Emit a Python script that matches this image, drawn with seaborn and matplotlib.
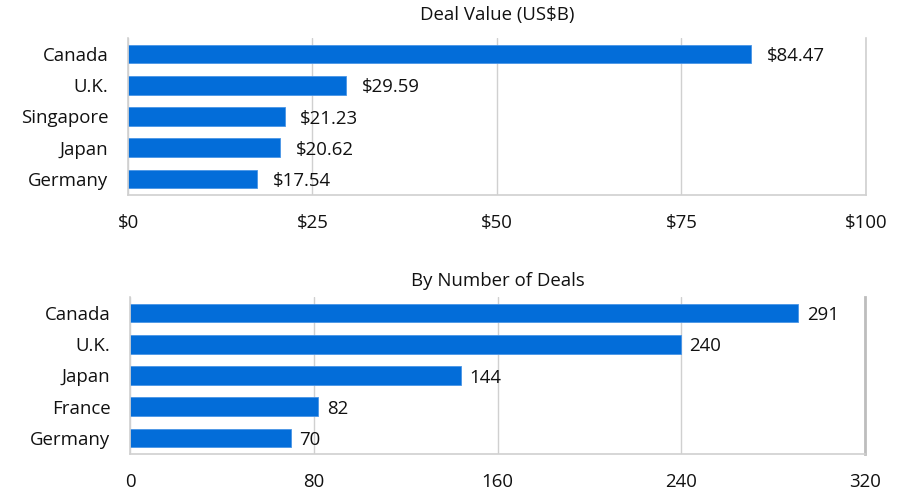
import matplotlib
matplotlib.use('Agg')
import matplotlib.pyplot as plt
import seaborn as sns
import pandas as pd

value_countries = ['Canada', 'U.K.', 'Singapore', 'Japan', 'Germany']
deal_values = [84.47, 29.59, 21.23, 20.62, 17.54]
value_ticks = [0, 25, 50, 75, 100]

count_countries = ['Canada', 'U.K.', 'Japan', 'France', 'Germany']
deal_counts = [291, 240, 144, 82, 70]
count_ticks = [0, 80, 160, 240, 320]

sns.set_style('white')
plt.rcParams['font.family'] = ['Open Sans', 'DejaVu Sans']

bar_color = '#036dd9'
grid_color = '#d0d0d0'
fs = 13.4

fig = plt.figure(figsize=(9.15, 4.96), dpi=100)
ax1 = fig.add_axes([0.1399, 0.6077, 0.8065, 0.3149])
ax2 = fig.add_axes([0.1421, 0.0855, 0.8033, 0.3149])

df1 = pd.DataFrame({'country': value_countries, 'value': deal_values})
df2 = pd.DataFrame({'country': count_countries, 'count': deal_counts})

sns.barplot(data=df1, x='value', y='country', color=bar_color, width=0.6,
            saturation=1, edgecolor='#4a95e6', linewidth=0.6, ax=ax1)
sns.barplot(data=df2, x='count', y='country', color=bar_color, width=0.6,
            saturation=1, edgecolor='#4a95e6', linewidth=0.6, ax=ax2)

# labels sit a touch below bar centre, like the original
lab1 = ax1.bar_label(ax1.containers[0], labels=['$%.2f' % v for v in deal_values],
                     padding=11, fontsize=fs, color='#111111')
lab2 = ax2.bar_label(ax2.containers[0], labels=[str(v) for v in deal_counts],
                     padding=6, fontsize=fs, color='#111111')
for t in list(lab1) + list(lab2):
    x, y = t.xyann
    t.xyann = (x, y - 1.5)

ax1.set_xlim(0, 100)
ax1.set_xticks(value_ticks)
ax1.set_xticklabels(['$%d' % t for t in value_ticks])
ax2.set_xlim(0, 320)
ax2.set_xticks(count_ticks)
ax2.set_xticklabels([str(t) for t in count_ticks])

ax1.set_title('Deal Value (US$B)', fontsize=fs, pad=13, color='#111111')
ax2.set_title('By Number of Deals', fontsize=fs, pad=8, color='#111111')

for ax in (ax1, ax2):
    ax.set_xlabel('')
    ax.set_ylabel('')
    ax.tick_params(axis='x', length=0, pad=14, labelsize=fs, colors='#111111')
    ax.tick_params(axis='y', length=0, pad=14, labelsize=fs, colors='#111111')
    ax.xaxis.grid(True, color=grid_color, linewidth=1)
    ax.set_axisbelow(True)
    ax.spines['top'].set_visible(False)
    for s in ('left', 'bottom', 'right'):
        ax.spines[s].set_color(grid_color)
        ax.spines[s].set_linewidth(1.2)

ax2.spines['right'].set_color('#bdbdbd')
ax2.spines['right'].set_linewidth(2)

plt.savefig('out.png', dpi=100)
